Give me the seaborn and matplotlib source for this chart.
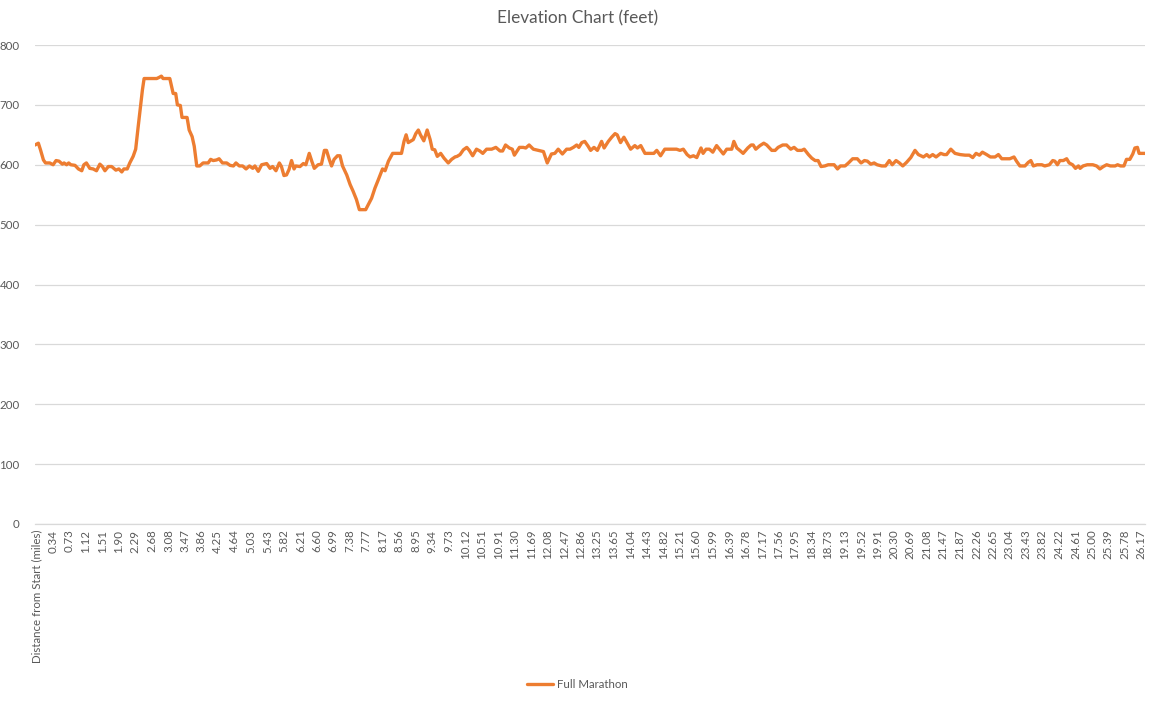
import matplotlib
matplotlib.use("Agg")
import matplotlib.pyplot as plt
import seaborn as sns
import pandas as pd

# ---------------- data ----------------
miles = [
    -0.09, -0.01, 0.04, 0.11, 0.16, 0.26, 0.34, 0.41, 0.48, 0.56, 0.60, 0.66, 0.71, 0.76, 0.86, 0.94,
    1.02, 1.07, 1.13, 1.21, 1.29, 1.37, 1.45, 1.51, 1.57, 1.65, 1.73, 1.83, 1.90, 1.97, 2.02, 2.10,
    2.16, 2.24, 2.30, 2.36, 2.42, 2.46, 2.50, 2.64, 2.80, 2.86, 2.91, 2.95, 3.11, 3.19, 3.25, 3.29,
    3.36, 3.40, 3.52, 3.57, 3.64, 3.69, 3.75, 3.82,
    3.90, 4.02, 4.08, 4.14, 4.22, 4.28, 4.36, 4.46, 4.54, 4.62, 4.68, 4.76, 4.84, 4.92, 5.00, 5.08,
    5.13, 5.21, 5.29, 5.41, 5.49, 5.55, 5.63, 5.71, 5.76, 5.82, 5.88, 5.94, 6.00, 6.06, 6.10, 6.20,
    6.28, 6.34, 6.42, 6.48, 6.54, 6.63, 6.71, 6.78, 6.83, 6.90, 6.95, 7.01, 7.09, 7.15, 7.21, 7.31,
    7.39, 7.46, 7.54, 7.61, 7.76, 7.82, 7.90, 7.98, 8.06, 8.16, 8.22,
    8.30, 8.40, 8.61, 8.67, 8.72, 8.77, 8.89, 8.95, 9.01, 9.06, 9.14, 9.22, 9.29, 9.34, 9.40, 9.46,
    9.54, 9.62, 9.72, 9.80, 9.88, 9.93, 10.00, 10.08, 10.16, 10.22, 10.30, 10.39, 10.47, 10.54, 10.63,
    10.75, 10.85, 10.95, 11.01, 11.08, 11.17, 11.24, 11.29, 11.41, 11.50, 11.56, 11.64, 11.74, 11.86,
    11.98, 12.07, 12.17, 12.25, 12.33, 12.43, 12.53,
    12.61, 12.69, 12.77, 12.82, 12.89, 12.96, 13.04, 13.10, 13.18, 13.26, 13.36, 13.42, 13.52, 13.60,
    13.68, 13.73, 13.81, 13.89, 13.97, 14.05, 14.15, 14.21, 14.29, 14.39, 14.49, 14.60, 14.67, 14.76,
    14.86, 14.98, 15.14, 15.22, 15.30, 15.39, 15.46, 15.54, 15.62, 15.72, 15.77, 15.84, 15.92, 16.00,
    16.09, 16.17, 16.25, 16.33, 16.45, 16.50, 16.57, 16.64, 16.72, 16.83, 16.91, 16.96, 17.02, 17.12,
    17.21, 17.28,
    17.40, 17.48, 17.55, 17.66, 17.75, 17.85, 17.93, 18.01, 18.11, 18.17, 18.27, 18.35, 18.43, 18.50,
    18.57, 18.66, 18.74, 18.88, 18.96, 19.03, 19.14, 19.22, 19.32, 19.43, 19.52, 19.60, 19.67, 19.75,
    19.83, 19.90, 20.01, 20.10, 20.19, 20.26, 20.35, 20.43, 20.51, 20.60, 20.70, 20.80, 20.88, 21.00,
    21.08, 21.14, 21.22, 21.30, 21.41, 21.49, 21.55, 21.65, 21.75, 21.87,
    21.99, 22.09, 22.17, 22.25, 22.33, 22.40, 22.50, 22.59, 22.70, 22.78, 22.86, 22.96, 23.05, 23.15,
    23.21, 23.29, 23.41, 23.49, 23.55, 23.61, 23.70, 23.81, 23.88, 23.99, 24.07, 24.12, 24.18, 24.24,
    24.32, 24.40, 24.46, 24.54, 24.61, 24.68, 24.72, 24.79, 24.89, 25.02, 25.11, 25.19, 25.27, 25.35,
    25.44, 25.55, 25.61, 25.68, 25.76, 25.82, 25.90, 25.97, 26.02, 26.08, 26.12, 26.18, 26.26,
]
elevation = [
    633, 636, 625, 608, 603, 603, 600, 607, 606, 601, 603, 600, 603, 600, 599, 593,
    590, 600, 603, 594, 593, 590, 601, 597, 590, 597, 597, 591, 593, 588, 593, 593,
    603, 614, 626, 664, 700, 725, 744, 744, 744, 746, 748, 744, 744, 719, 719, 700,
    699, 679, 679, 658, 647, 631, 598, 598,
    603, 603, 609, 607, 608, 610, 603, 603, 599, 598, 603, 598, 598, 593, 598, 594,
    598, 589, 600, 602, 594, 597, 590, 603, 597, 582, 583, 592, 607, 593, 598, 597,
    602, 600, 619, 606, 594, 600, 601, 624, 624, 608, 598, 609, 615, 615, 598, 583,
    567, 556, 542, 525, 525, 533, 544, 561, 575, 593, 590,
    606, 619, 619, 639, 650, 637, 642, 652, 658, 650, 640, 658, 642, 626, 625, 614,
    619, 611, 603, 609, 613, 614, 617, 625, 629, 624, 615, 626, 623, 619, 626,
    626, 629, 623, 623, 633, 628, 626, 616, 629, 629, 628, 633, 626, 624,
    622, 603, 618, 619, 626, 618, 626,
    626, 629, 633, 629, 637, 639, 631, 624, 629, 624, 639, 628, 639, 646,
    652, 650, 637, 646, 636, 626, 632, 628, 632, 619, 619, 619, 624, 615,
    626, 626, 626, 624, 626, 617, 613, 615, 612, 628, 619, 626, 626, 621,
    632, 625, 618, 626, 626, 639, 628, 624, 619, 628, 633, 633, 626, 632,
    636, 633,
    624, 624, 629, 633, 633, 626, 629, 624, 624, 626, 617, 611, 607, 607,
    597, 598, 600, 600, 593, 598, 598, 603, 610, 610, 603, 607, 606, 601,
    603, 600, 598, 598, 607, 600, 607, 603, 598, 604, 612, 624, 617, 613,
    617, 613, 617, 613, 619, 617, 617, 626, 619, 617,
    616, 616, 612, 619, 616, 621, 617, 613, 613, 617, 610, 610, 610, 613,
    606, 598, 598, 604, 607, 598, 600, 600, 598, 600, 607, 606, 600, 607,
    607, 610, 603, 600, 594, 598, 594, 598, 600, 600, 598, 593, 597, 600,
    598, 598, 600, 598, 598, 609, 609, 618, 628, 629, 619, 619, 619,
]
tick_labels = [
    "Distance from Start (miles)", "0.34", "0.73", "1.12", "1.51", "1.90", "2.29", "2.68", "3.08",
    "3.47", "3.86", "4.25", "4.64", "5.03", "5.43", "5.82", "6.21", "6.60", "6.99", "7.38", "7.77",
    "8.17", "8.56", "8.95", "9.34", "9.73", "10.12", "10.51", "10.91", "11.30", "11.69", "12.08",
    "12.47", "12.86", "13.25", "13.65", "14.04", "14.43", "14.82", "15.21", "15.60", "15.99",
    "16.39", "16.78", "17.17", "17.56", "17.95", "18.34", "18.73", "19.13", "19.52", "19.91",
    "20.30", "20.69", "21.08", "21.47", "21.87", "22.26", "22.65", "23.04", "23.43", "23.82",
    "24.22", "24.61", "25.00", "25.39", "25.78", "26.17",
]
y_ticks = [0, 100, 200, 300, 400, 500, 600, 700, 800]
title = "Elevation Chart (feet)"
series_name = "Full Marathon"

# ---------------- styling ----------------
sns.set_style("white")
plt.rcParams["font.family"] = ["Lato", "DejaVu Sans"]
LINE = "#ED7D31"
TXT = "#595959"
GRID = "#D9D9D9"

df = pd.DataFrame({"mile": miles, "elevation": elevation})

fig = plt.figure(figsize=(11.55, 7.04), dpi=100)
ax = fig.add_axes([35 / 1155, 1 - 524 / 704, (1145 - 35) / 1155, (524 - 45) / 704])

sns.lineplot(data=df, x="mile", y="elevation", ax=ax, color=LINE, linewidth=2.4,
             label=series_name, sort=False, estimator=None)

# category-style tick positions from the label values
num_pos = [float(s) for s in tick_labels[1:]]
positions = [num_pos[0] - (num_pos[1] - num_pos[0])] + num_pos
ax.set_xticks(positions)
ax.set_xticklabels(tick_labels, rotation=90, color=TXT, fontsize=8.3)
ax.set_xlim(min(miles), max(miles))

ax.set_ylim(y_ticks[0], y_ticks[-1])
ax.set_yticks(y_ticks)
ax.set_yticklabels([str(v) for v in y_ticks], color=TXT, fontsize=8.3)
ax.yaxis.grid(True, color=GRID, linewidth=0.9)
ax.set_axisbelow(True)
ax.tick_params(axis="both", length=0)
ax.tick_params(axis="y", pad=11)
ax.tick_params(axis="x", pad=4)

for s in ["top", "right", "left"]:
    ax.spines[s].set_visible(False)
ax.spines["bottom"].set_color(GRID)
ax.spines["bottom"].set_linewidth(0.9)

ax.set_xlabel("")
ax.set_ylabel("")

fig.text(0.5, 1 - 18 / 704, title, ha="center", va="center", fontsize=12.4, color=TXT)

ax.legend_.remove()
handles, labels = ax.get_legend_handles_labels()
fig.legend(handles, labels, loc="center", bbox_to_anchor=(0.5, 1 - 685 / 704), frameon=False,
           fontsize=8.3, labelcolor=TXT, handlelength=2.2, handletextpad=0.4)

fig.savefig("out.png", dpi=100)
